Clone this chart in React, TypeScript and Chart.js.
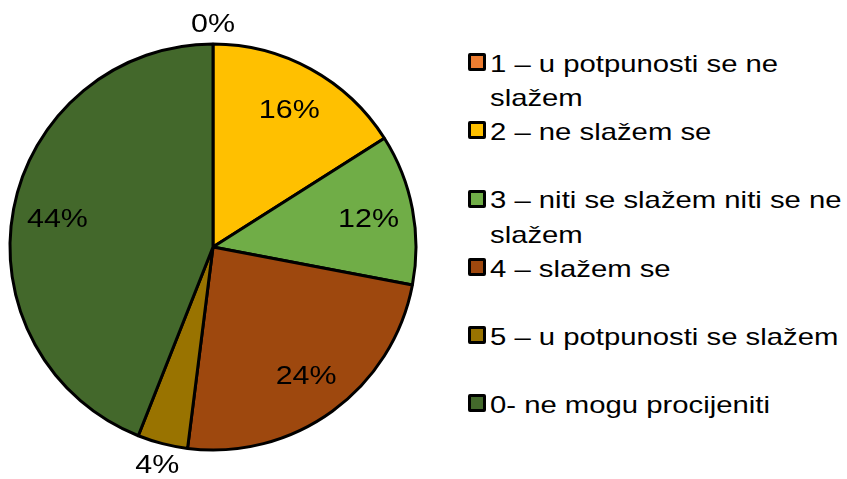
import React, { useEffect, useRef } from "react";
import { Chart, registerables } from "chart.js";

Chart.register(...registerables);

const CATEGORIES = [
  "1 – u potpunosti se ne slažem",
  "2 – ne slažem se",
  "3 – niti se slažem niti se ne slažem",
  "4 – slažem se",
  "5 – u potpunosti se slažem",
  "0- ne mogu procijeniti",
];
const VALUES = [0, 16, 12, 24, 4, 44];
const COLORS = ["#ED7D31", "#FFC000", "#70AD47", "#9E480E", "#997300", "#43682B"];

const FONT = "'Liberation Sans', Arial, sans-serif";
const STRETCH = 1.22;

const labelPlugin = {
  id: "sliceLabels",
  afterDatasetsDraw(chart: any) {
    const ctx = chart.ctx;
    const meta = chart.getDatasetMeta(0);
    const size = 26;
    ctx.save();
    ctx.font = `${size}px ${FONT}`;
    ctx.fillStyle = "#000";
    ctx.textAlign = "center";
    ctx.textBaseline = "alphabetic";
    meta.data.forEach((arc: any, i: number) => {
      const p = arc.getProps(["x", "y", "startAngle", "endAngle", "outerRadius"], true);
      const mid = (p.startAngle + p.endAngle) / 2;
      const v = VALUES[i];
      const r = v < 5 ? p.outerRadius + 21 : p.outerRadius * 0.78;
      const cx = p.x + Math.cos(mid) * r;
      const cy = p.y + Math.sin(mid) * r;
      ctx.save();
      ctx.translate(cx, cy + size * 0.358);
      ctx.scale(1.17, 1);
      ctx.fillText(`${Math.round(v)}%`, 0, 0);
      ctx.restore();
    });
    ctx.restore();
  },
};

export default function App() {
  const ref = useRef<HTMLCanvasElement | null>(null);

  useEffect(() => {
    document.body.style.margin = "0";
    if (!ref.current) return;
    const chart = new Chart(ref.current, {
      type: "pie",
      data: {
        labels: CATEGORIES,
        datasets: [
          {
            data: VALUES,
            backgroundColor: COLORS,
            borderColor: "#000",
            borderWidth: 3,
          },
        ],
      },
      options: {
        responsive: false,
        animation: false,
        radius: 203,
        layout: { padding: { top: 15 } },
        plugins: {
          legend: { display: false },
          tooltip: { enabled: false },
        },
      } as any,
      plugins: [labelPlugin],
    });
    return () => chart.destroy();
  }, []);

  return (
    <div style={{ position: "absolute", left: 0, top: 0, width: 847, height: 479, background: "#fff" }}>
      <canvas ref={ref} width={426} height={479} style={{ position: "absolute", left: 0, top: 0 }} />
      <div style={{ position: "absolute", left: 468, top: 46.8, width: 379 }}>
        {CATEGORIES.map((c, i) => (
          <div key={i} style={{ position: "relative", height: 68.3 }}>
            <div
              style={{
                position: "absolute",
                left: 0,
                top: 6.2,
                width: 18,
                height: 18,
                boxSizing: "border-box",
                border: "3px solid #000",
                borderRadius: 2,
                background: COLORS[i],
              }}
            />
            <div
              style={{
                position: "absolute",
                left: 22,
                top: 0,
                width: 357 / STRETCH,
                fontFamily: FONT,
                fontSize: 24,
                lineHeight: "34.15px",
                color: "#000",
                transform: `scaleX(${STRETCH})`,
                transformOrigin: "left top",
              }}
            >
              {c}
            </div>
          </div>
        ))}
      </div>
    </div>
  );
}
